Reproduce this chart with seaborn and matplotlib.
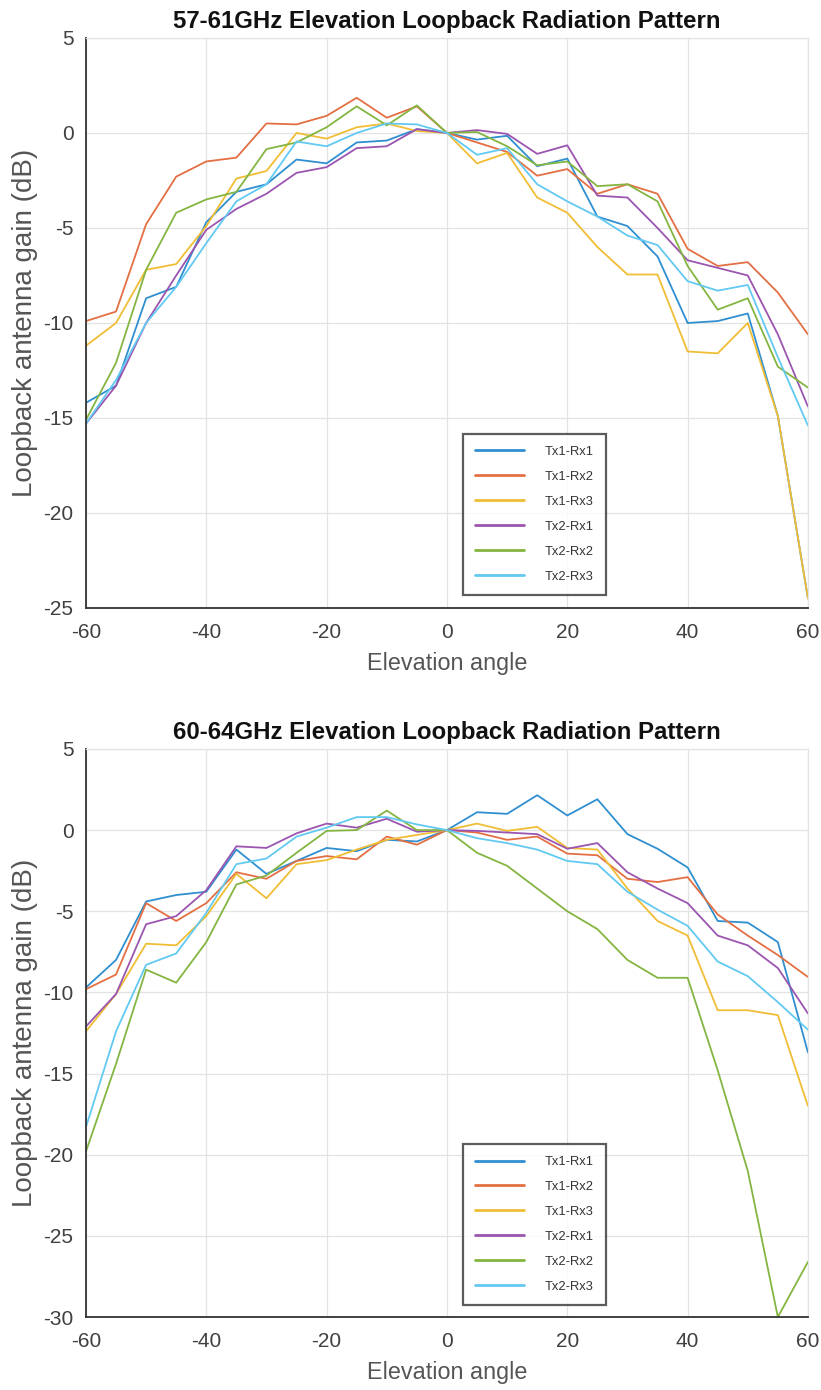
import pandas as pd
import matplotlib
matplotlib.use('Agg')
import matplotlib.pyplot as plt
import seaborn as sns

angles = [-60, -55, -50, -45, -40, -35, -30, -25, -20, -15, -10, -5, 0,
          5, 10, 15, 20, 25, 30, 35, 40, 45, 50, 55, 60]
pairs = ['Tx1-Rx1', 'Tx1-Rx2', 'Tx1-Rx3', 'Tx2-Rx1', 'Tx2-Rx2', 'Tx2-Rx3']

# 57-61GHz
t_tx1rx1 = [-14.2, -13.3, -8.7, -8.1, -4.7, -3.1, -2.7, -1.4, -1.6, -0.5, -0.4, 0.2, 0.0,
            -0.35, -0.15, -1.75, -1.35, -4.4, -4.9, -6.5, -10.0, -9.9, -9.5, -14.9, -24.5]
t_tx1rx2 = [-9.9, -9.4, -4.8, -2.3, -1.5, -1.3, 0.5, 0.45, 0.9, 1.85, 0.8, 1.4, 0.0,
            -0.5, -1.0, -2.25, -1.9, -3.2, -2.7, -3.2, -6.1, -7.0, -6.8, -8.4, -10.6]
t_tx1rx3 = [-11.2, -10.0, -7.2, -6.9, -4.9, -2.4, -2.0, 0.0, -0.3, 0.3, 0.5, 0.1, 0.0,
            -1.6, -1.05, -3.4, -4.2, -6.0, -7.45, -7.45, -11.5, -11.6, -10.0, -14.9, -24.5]
t_tx2rx1 = [-15.3, -13.3, -10.0, -7.5, -5.1, -4.0, -3.2, -2.1, -1.8, -0.8, -0.7, 0.2, 0.0,
            0.15, -0.05, -1.1, -0.65, -3.3, -3.4, -5.0, -6.7, -7.1, -7.5, -10.6, -14.4]
t_tx2rx2 = [-15.1, -12.1, -7.2, -4.2, -3.5, -3.1, -0.85, -0.5, 0.3, 1.4, 0.4, 1.45, 0.0,
            0.05, -0.7, -1.7, -1.5, -2.8, -2.7, -3.6, -7.0, -9.3, -8.7, -12.3, -13.4]
t_tx2rx3 = [-15.3, -13.0, -10.0, -8.1, -5.8, -3.6, -2.7, -0.45, -0.7, 0.0, 0.5, 0.45, 0.0,
            -1.15, -0.8, -2.7, -3.6, -4.4, -5.4, -5.9, -7.8, -8.3, -8.0, -11.8, -15.4]

# 60-64GHz
b_tx1rx1 = [-9.7, -8.0, -4.4, -4.0, -3.8, -1.2, -2.7, -1.9, -1.1, -1.3, -0.6, -0.7, 0.0,
            1.1, 1.0, 2.15, 0.9, 1.9, -0.25, -1.15, -2.3, -5.6, -5.7, -6.9, -13.7]
b_tx1rx2 = [-9.8, -8.9, -4.5, -5.6, -4.5, -2.6, -3.0, -1.9, -1.6, -1.8, -0.4, -0.9, 0.0,
            -0.15, -0.6, -0.4, -1.45, -1.55, -3.0, -3.2, -2.9, -5.2, -6.5, -7.7, -9.05]
b_tx1rx3 = [-12.4, -10.1, -7.0, -7.1, -5.3, -2.7, -4.2, -2.1, -1.85, -1.2, -0.6, -0.3, 0.0,
            0.4, -0.05, 0.2, -1.1, -1.2, -3.6, -5.6, -6.5, -11.1, -11.1, -11.4, -17.0]
b_tx2rx1 = [-12.1, -10.1, -5.8, -5.3, -3.7, -1.0, -1.1, -0.2, 0.4, 0.15, 0.7, -0.1, 0.0,
            -0.05, -0.15, -0.25, -1.15, -0.8, -2.6, -3.6, -4.5, -6.5, -7.1, -8.5, -11.3]
b_tx2rx2 = [-19.8, -14.4, -8.6, -9.4, -6.9, -3.35, -2.8, -1.4, -0.05, 0.0, 1.2, 0.0, 0.0,
            -1.4, -2.2, -3.6, -5.0, -6.1, -8.0, -9.1, -9.1, -14.8, -21.0, -30.0, -26.6]
b_tx2rx3 = [-18.3, -12.4, -8.3, -7.6, -5.1, -2.1, -1.75, -0.4, 0.15, 0.8, 0.8, 0.35, 0.0,
            -0.5, -0.8, -1.2, -1.9, -2.1, -3.8, -4.9, -5.9, -8.1, -9.0, -10.6, -12.3]

colors = ['#2f8fd0', '#e36f43', '#f0bd35', '#9b55b0', '#84b541', '#62c9f2']

sns.set_style('whitegrid')
plt.rcParams['font.family'] = ['Liberation Sans', 'DejaVu Sans']
plt.rcParams['axes.unicode_minus'] = False


def long_frame(series):
    rows = []
    for name, vals in zip(pairs, series):
        for a, v in zip(angles, vals):
            rows.append({'angle': a, 'gain': v, 'pair': name})
    return pd.DataFrame(rows)


def draw(ax, df, title, ylim, yticks, leg_y):
    sns.lineplot(data=df, x='angle', y='gain', hue='pair', hue_order=pairs,
                 palette=colors, linewidth=1.3, ax=ax, legend=True, sort=False)
    ax.set_xlim(-60, 60)
    ax.set_ylim(*ylim)
    ax.set_xticks([-60, -40, -20, 0, 20, 40, 60])
    ax.set_yticks(yticks)
    ax.grid(True, color='#e3e3e3', linewidth=0.9)
    for s in ['top', 'right']:
        ax.spines[s].set_color('#e3e3e3')
        ax.spines[s].set_linewidth(0.9)
    for s in ['left', 'bottom']:
        ax.spines[s].set_color('#333333')
        ax.spines[s].set_linewidth(1.3)
    ax.tick_params(direction='in', length=5, width=1.1, color='#333333',
                   labelsize=15, labelcolor='#404040')
    ax.tick_params(axis='x', pad=11)
    ax.tick_params(axis='y', pad=9)
    ax.set_title(title, fontsize=17.3, fontweight='bold', color='#111111', pad=7)
    ax.set_xlabel('Elevation angle', fontsize=16.8, color='#555555', labelpad=7)
    ax.set_ylabel('Loopback antenna gain (dB)', fontsize=20, color='#555555', labelpad=4)
    handles, labels = ax.get_legend_handles_labels()
    leg = ax.legend(handles, labels, loc='lower left', bbox_to_anchor=(0.522, leg_y),
                    borderaxespad=0, fontsize=9.3, frameon=True, fancybox=False,
                    handlelength=3.8, handletextpad=1.6, labelspacing=1.0,
                    borderpad=0.95)
    leg.get_frame().set_edgecolor('#333333')
    leg.get_frame().set_linewidth(1.6)
    for line in leg.get_lines():
        line.set_linewidth(2.0)
    for t in leg.get_texts():
        t.set_color('#333333')


fig = plt.figure(figsize=(8.21, 13.9), dpi=100)
ax1 = fig.add_axes([0.1047, 0.5626, 0.8794, 0.4101])
ax2 = fig.add_axes([0.1047, 0.0525, 0.8794, 0.4087])

draw(ax1, long_frame([t_tx1rx1, t_tx1rx2, t_tx1rx3, t_tx2rx1, t_tx2rx2, t_tx2rx3]),
     '57-61GHz Elevation Loopback Radiation Pattern', (-25, 5),
     [-25, -20, -15, -10, -5, 0, 5], 0.023)
draw(ax2, long_frame([b_tx1rx1, b_tx1rx2, b_tx1rx3, b_tx2rx1, b_tx2rx2, b_tx2rx3]),
     '60-64GHz Elevation Loopback Radiation Pattern', (-30, 5),
     [-30, -25, -20, -15, -10, -5, 0, 5], 0.021)

fig.savefig('out.png', dpi=100)
